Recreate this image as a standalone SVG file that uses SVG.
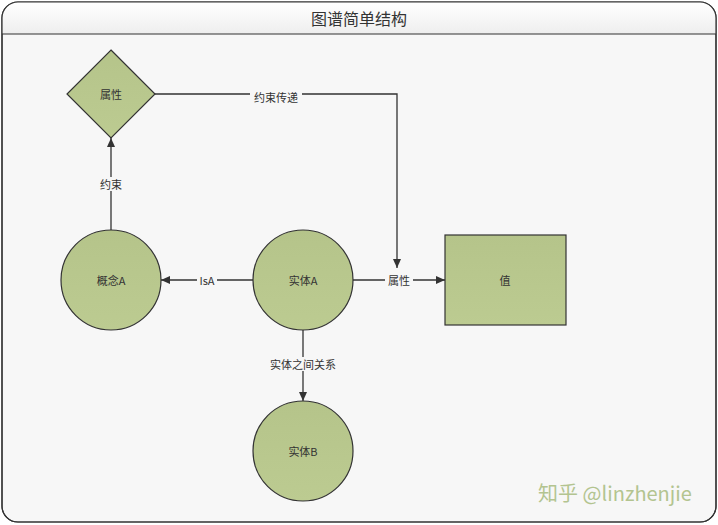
<svg xmlns="http://www.w3.org/2000/svg" width="718" height="525" viewBox="0 0 718 525">
<defs>
<marker id="arr" markerWidth="10" markerHeight="10" refX="9" refY="5" orient="auto" markerUnits="userSpaceOnUse">
<path d="M0,1 L9,5 L0,9 Z" fill="#333"/>
</marker>
<linearGradient id="hdr" x1="0" y1="0" x2="0" y2="1">
<stop offset="0" stop-color="#ffffff"/>
<stop offset="1" stop-color="#eeeeee"/>
</linearGradient>
<linearGradient id="nodefill" x1="0" y1="0" x2="0" y2="1">
<stop offset="0" stop-color="#b5c48a"/>
<stop offset="1" stop-color="#bccb91"/>
</linearGradient>
<clipPath id="frameclip"><rect x="2" y="2" width="714" height="520" rx="16"/></clipPath>
</defs>
<style>
.node{fill:url(#nodefill);stroke:#333;stroke-width:1.2}
.edge{fill:none;stroke:#333;stroke-width:1.3}
.lbl{font-family:"Noto Sans CJK SC","Liberation Sans",sans-serif;font-size:11px;fill:#333;text-anchor:middle;dominant-baseline:central}
.elbl{font-family:"Noto Sans CJK SC","Liberation Sans",sans-serif;font-size:11px;fill:#333;text-anchor:middle;dominant-baseline:central}
.lblbg{fill:#f7f7f7}
</style>
<rect x="0" y="0" width="718" height="525" fill="#ffffff"/>
<rect x="2" y="2" width="714" height="520" rx="16" fill="#f7f7f7" stroke="#333" stroke-width="1.2"/>
<rect x="2" y="2" width="714" height="32" fill="url(#hdr)" clip-path="url(#frameclip)"/>
<rect x="2" y="2" width="714" height="520" rx="16" fill="none" stroke="#333" stroke-width="1.2"/>
<line x1="2" y1="34" x2="716" y2="34" stroke="#333" stroke-width="1.2"/>
<text x="359" y="18" font-family="Noto Sans CJK SC, Liberation Sans, sans-serif" font-size="16" fill="#333" text-anchor="middle" dominant-baseline="central">图谱简单结构</text>

<g id="connectors">
<path class="edge" d="M155,94 H397 V268" marker-end="url(#arr)"/>
<rect class="lblbg" x="250" y="90" width="52" height="14"/>
<text class="elbl" x="276" y="97">约束传递</text>

<path class="edge" d="M111,230 V138" marker-end="url(#arr)"/>
<rect class="lblbg" x="97" y="177" width="28" height="14"/>
<text class="elbl" x="111" y="184">约束</text>

<path class="edge" d="M253,280 H161" marker-end="url(#arr)"/>
<rect class="lblbg" x="197" y="273" width="20" height="14"/>
<text class="elbl" x="207" y="280">IsA</text>

<path class="edge" d="M353,280 H445" marker-end="url(#arr)"/>
<rect class="lblbg" x="385" y="273" width="28" height="14"/>
<text class="elbl" x="399" y="280">属性</text>

<path class="edge" d="M303,330 V401" marker-end="url(#arr)"/>
<rect class="lblbg" x="268" y="357" width="70" height="14"/>
<text class="elbl" x="303" y="364">实体之间关系</text>
</g>

<g id="attr">
<polygon class="node" points="111,50 155,94 111,138 67,94"/>
<text class="lbl" x="111" y="94">属性</text>
</g>
<g id="conceptA">
<circle class="node" cx="111" cy="280" r="50"/>
<text class="lbl" x="111" y="280">概念A</text>
</g>
<g id="entityA">
<circle class="node" cx="303" cy="280" r="50"/>
<text class="lbl" x="303" y="280">实体A</text>
</g>
<g id="value">
<rect class="node" x="445" y="235" width="121" height="90"/>
<text class="lbl" x="505" y="280">值</text>
</g>
<g id="entityB">
<circle class="node" cx="303" cy="451" r="50"/>
<text class="lbl" x="303" y="451">实体B</text>
</g>

<text x="615" y="492" font-family="Noto Sans CJK SC, Liberation Sans, sans-serif" font-size="20" fill="#b3c490" text-anchor="middle" dominant-baseline="central">知乎 @linzhenjie</text>
</svg>
